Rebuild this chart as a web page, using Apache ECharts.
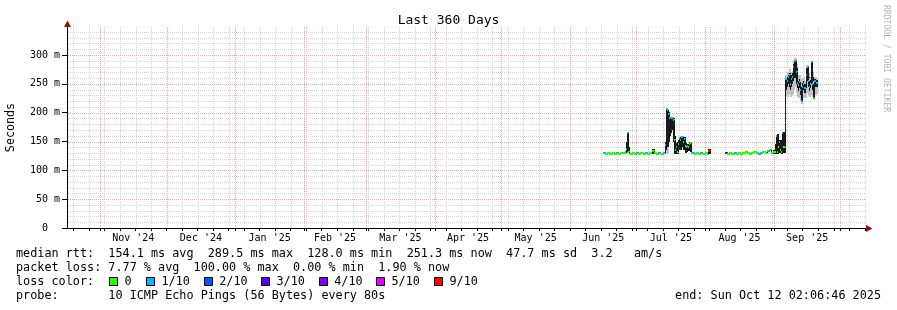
<!DOCTYPE html>
<html><head><meta charset="utf-8">
<script src="https://cdn.jsdelivr.net/npm/echarts@6/dist/echarts.min.js"></script>
<style>html,body{margin:0;padding:0;background:#fff}#c{width:897px;height:310px}</style>
</head><body><div id="c"></div>
<script>
// ---------------- data ----------------
const rangeStart = '2024-10-17 02:06';
const rangeDays = 360;
const endTime = '2025-09-20 12:00';
const times = [
 '2025-06-16 00:00','2025-06-17 00:00','2025-06-18 00:00','2025-06-19 00:00','2025-06-20 00:00',
 '2025-06-21 00:00','2025-06-22 00:00','2025-06-23 00:00','2025-06-24 00:00','2025-06-25 00:00',
 '2025-06-26 00:00','2025-06-26 12:00','2025-06-27 00:00','2025-06-27 12:00','2025-06-28 00:00',
 '2025-06-29 00:00','2025-06-30 00:00','2025-07-01 00:00','2025-07-02 00:00','2025-07-03 00:00',
 '2025-07-04 00:00','2025-07-05 00:00','2025-07-06 00:00','2025-07-07 00:00','2025-07-08 00:00',
 '2025-07-09 00:00','2025-07-10 00:00','2025-07-11 00:00','2025-07-12 00:00','2025-07-13 00:00',
 '2025-07-14 00:00','2025-07-14 12:00','2025-07-15 00:00','2025-07-15 12:00','2025-07-16 00:00',
 '2025-07-16 12:00','2025-07-17 00:00','2025-07-17 12:00','2025-07-18 00:00','2025-07-18 12:00',
 '2025-07-19 00:00','2025-07-19 12:00','2025-07-20 00:00','2025-07-20 12:00','2025-07-21 00:00',
 '2025-07-21 12:00','2025-07-22 00:00','2025-07-22 12:00','2025-07-23 00:00','2025-07-23 12:00',
 '2025-07-24 00:00','2025-07-24 12:00','2025-07-25 00:00','2025-07-25 12:00','2025-07-26 00:00',
 '2025-07-27 00:00','2025-07-28 00:00','2025-07-29 00:00','2025-07-30 00:00','2025-07-31 00:00',
 '2025-08-01 00:00','2025-08-02 00:00','2025-08-02 16:00','2025-08-03 06:00','2025-08-10 08:00',
 '2025-08-11 00:00','2025-08-12 00:00','2025-08-13 00:00','2025-08-14 00:00','2025-08-15 00:00',
 '2025-08-16 00:00','2025-08-17 00:00','2025-08-18 00:00','2025-08-19 00:00','2025-08-20 00:00',
 '2025-08-21 00:00','2025-08-22 00:00','2025-08-23 00:00','2025-08-24 00:00','2025-08-25 00:00',
 '2025-08-26 00:00','2025-08-27 00:00','2025-08-28 00:00','2025-08-29 00:00','2025-08-30 00:00',
 '2025-08-31 00:00','2025-09-01 00:00','2025-09-01 12:00','2025-09-02 00:00','2025-09-02 12:00',
 '2025-09-03 00:00','2025-09-03 12:00','2025-09-04 00:00','2025-09-04 12:00','2025-09-05 00:00',
 '2025-09-05 12:00','2025-09-06 00:00','2025-09-06 08:00','2025-09-07 00:00','2025-09-07 12:00',
 '2025-09-08 00:00','2025-09-08 12:00','2025-09-09 00:00','2025-09-09 12:00','2025-09-10 00:00',
 '2025-09-10 12:00','2025-09-11 00:00','2025-09-11 12:00','2025-09-12 00:00','2025-09-12 12:00',
 '2025-09-13 00:00','2025-09-13 12:00','2025-09-14 00:00','2025-09-14 12:00','2025-09-15 00:00',
 '2025-09-15 12:00','2025-09-16 00:00','2025-09-16 12:00','2025-09-17 00:00','2025-09-17 12:00',
 '2025-09-18 00:00','2025-09-18 12:00','2025-09-19 00:00','2025-09-19 12:00','2025-09-20 00:00'
];
// median rtt (ms)
const median = [
 130,129,130,129,130, 129,130,129,130,130,
 131,137,164,131,129, 130,129,130,129,130,
 129,130,129,130,133, 130,129,130,129,130,
 144,206,204,198,191, 190,190,188,152,135,
 141,132,145,156,153, 157,150,155,142,140,
 143,141,146,148,130, 129,130,129,130,129,
 130,129,134,null,130, 129,130,129,130,129,
 130,129,130,131,130, 129,130,131,130,129,
 130,131,130,133,136, 130,131,132,160,131,
 140,150,135,131,165, 140,183,258,255,262,
 265,250,258,262,280, 290,270,252,248,253,
 240,220,245,250,243, 265,280,255,245,250,
 288,250,226,255,251
];
// lost pings out of 10
const loss = [
 1,0,0,0,0, 0,1,0,0,0,
 1,1,1,0,0, 0,0,1,0,0,
 0,1,0,0,0, 0,0,1,0,1,
 1,1,0,1,1, 1,1,0,0,0,
 1,0,0,1,1, 1,0,1,0,0,
 1,0,0,0,1, 0,0,0,1,0,
 0,1,9,null,3, 0,0,0,1,0,
 0,0,0,0,0, 0,0,0,0,1,
 1,0,0,1,0, 0,0,0,1,0,
 0,1,0,0,1, 0,1,1,1,1,
 1,1,1,1,1, 1,1,1,1,1,
 1,1,1,1,1, 1,1,1,1,1,
 1,1,0,1,1
];
// outer smoke (light) range, ms
const smokeLo = [
 null,null,null,null,null, null,null,null,null,null,
 null,null,129,null,null, null,null,null,null,null,
 null,null,null,null,null, null,null,null,null,null,
 null,128,130,null,null, null,null,null,null,null,
 null,null,null,null,null, null,null,null,null,null,
 null,null,null,null,null, null,null,null,null,null,
 null,null,null,null,null, null,null,null,null,null,
 null,null,null,null,null, null,null,null,null,null,
 null,null,null,null,null, null,null,null,null,null,
 null,null,null,null,null, null,null,230,228,232,
 235,228,230,232,240, 245,235,228,225,230,
 220,215,225,228,225, 235,240,230,228,230,
 240,228,222,230,232
];
const smokeHi = [
 null,null,null,null,null, null,null,null,null,null,
 null,null,166,null,null, null,null,null,null,null,
 null,null,null,null,null, null,null,null,null,null,
 null,208,206,null,null, null,null,null,null,null,
 null,null,null,null,null, null,null,null,null,null,
 null,null,null,null,null, null,null,null,null,null,
 null,null,null,null,null, null,null,null,null,null,
 null,null,null,null,null, null,null,null,null,null,
 null,null,null,null,null, null,null,null,null,null,
 null,null,null,null,null, null,null,265,270,270,
 275,265,270,272,292, 294,285,265,262,265,
 258,250,258,262,255, 282,283,268,260,262,
 290,270,255,262,258
];
// inner (dark) smoke range, ms
const coreLo = [
 null,null,null,null,null, null,null,null,null,null,
 null,130,131,130,null, null,null,null,null,null,
 null,null,null,null,129, null,null,null,null,null,
 130,135,140,150,160, 165,170,150,128,128,
 130,128,135,140,135, 140,135,140,130,132,
 135,133,138,132,null, null,null,null,null,null,
 null,null,129,null,null, null,null,null,null,null,
 null,null,null,null,null, null,null,null,null,null,
 null,null,null,null,null, null,129,129,130,129,
 130,132,130,129,130, 130,140,240,245,250,
 245,240,245,250,255, 260,250,242,238,243,
 230,218,235,240,235, 250,255,245,238,242,
 260,240,224,245,245
];
const coreHi = [
 null,null,null,null,null, null,null,null,null,null,
 null,150,164,140,null, null,null,null,null,null,
 null,null,null,null,137, null,null,null,null,null,
 150,206,205,202,192, 191,191,190,160,145,
 148,150,152,158,158, 159,156,158,148,145,
 146,145,149,150,null, null,null,null,null,null,
 null,null,137,null,null, null,null,null,null,null,
 null,null,null,null,null, null,null,null,null,null,
 null,null,null,null,null, null,135,145,161,163,
 150,153,152,140,167, 166,185,260,262,265,
 268,258,265,268,285, 291,278,258,255,258,
 250,245,252,255,250, 278,281,262,252,256,
 289,262,250,258,256
];
// axis / legend text
const monthStarts = ['2024-11-01','2024-12-01','2025-01-01','2025-02-01','2025-03-01','2025-04-01',
  '2025-05-01','2025-06-01','2025-07-01','2025-08-01','2025-09-01','2025-10-01'];
const monthLabels = ["Nov '24","Dec '24","Jan '25","Feb '25","Mar '25","Apr '25",
  "May '25","Jun '25","Jul '25","Aug '25","Sep '25"];
const firstWeekLine = '2024-10-20';
const yTicks = [0,50,100,150,200,250,300];
const yMax = 348.6;
const lossLevels = [0,1,2,3,4,5,9];
const lossLabels = ['0','1/10','2/10','3/10','4/10','5/10','9/10'];
const lossColors = ['#26ff00','#00b8ff','#0059ff','#5e00ff','#7e00ff','#dd00ff','#ff0000'];
const rowRtt  = 'median rtt:  154.1 ms avg  289.5 ms max  128.0 ms min  251.3 ms now  47.7 ms sd  3.2   am/s';
const rowLoss = 'packet loss: 7.77 % avg  100.00 % max  0.00 % min  1.90 % now';
const rowColorTitle = 'loss color:';
const rowProbe = 'probe:       10 ICMP Echo Pings (56 Bytes) every 80s';
const endText = 'end: Sun Oct 12 02:06:46 2025';

// ---------------- build ----------------
function parseT(s){
  const p = s.split(' '); const d = p[0].split('-').map(Number);
  const hm = (p[1] || '00:00').split(':').map(Number);
  return new Date(d[0], d[1]-1, d[2], hm[0], hm[1]).getTime();
}
const DAY = 864e5;
const xMin = parseT(rangeStart), xMax = xMin + rangeDays*DAY;
const tArr = times.map(parseT);
const tEnd = parseT(endTime);
const customData = [];
for (let i = 0; i < tArr.length; i++) {
  if (median[i] == null) continue;
  const t1 = i + 1 < tArr.length ? tArr[i+1] : tEnd;
  customData.push([tArr[i], t1, median[i], i]);
}
const mStarts = monthStarts.map(parseT).filter(t => t < xMax);
const mMids = monthLabels.map((l, i) => Math.round((parseT(monthStarts[i]) + parseT(monthStarts[i+1])) / 2));
const weekLines = [];
for (let t = parseT(firstWeekLine); t < xMax; t += 7*DAY) weekLines.push(t);

const GREY = '#d4d4d4', RED = '#f4a0a0';
// grid line items: [x value, y value, orientation 0=vertical 1=horizontal, major flag]
const gridItems = [];
weekLines.forEach(t => gridItems.push([t, 0, 0, 0]));
for (let v = 10; v < yMax; v += 10) if (v % 50) gridItems.push([xMin, v, 1, 0]);
mStarts.forEach(t => gridItems.push([t, 0, 0, 1]));
yTicks.forEach(v => { if (v > 0) gridItems.push([xMin, v, 1, 1]); });

function renderGrid(params, api){
  const cs = params.coordSys;
  const horiz = api.value(2) === 1;
  const col = api.value(3) === 1 ? RED : GREY;
  let shape;
  if (horiz) {
    const y = Math.round(api.coord([xMin, api.value(1)])[1]) + 0.5;
    shape = {x1: cs.x + 1, y1: y, x2: cs.x + cs.width, y2: y};
  } else {
    const x = Math.round(api.coord([api.value(0), 0])[0]) + 0.5;
    shape = {x1: x, y1: cs.y, x2: x, y2: cs.y + cs.height - 1};
  }
  return {type:'line', shape:shape, style:{stroke:col, lineWidth:1, lineDash:[1,1]}};
}

const CORE = '#1a1a1a', SMOKE = '#c2c2c2';
function colorOf(l){ const k = lossLevels.indexOf(l); return k >= 0 ? lossColors[k] : lossColors[0]; }

function renderItem(params, api){
  const idx = api.value(3);
  const x0 = Math.floor(api.coord([api.value(0), 0])[0]);
  const x1 = Math.ceil(api.coord([api.value(1), 0])[0]);
  const w = Math.max(1, x1 - x0);
  const yOf = v => api.coord([api.value(0), v])[1];
  const ch = [];
  if (smokeLo[idx] != null) {
    const a = Math.round(yOf(smokeHi[idx])), b = Math.round(yOf(smokeLo[idx]));
    ch.push({type:'rect', shape:{x:x0, y:a, width:w, height:b-a}, style:{fill:SMOKE}});
  }
  if (coreLo[idx] != null) {
    const a = Math.round(yOf(coreHi[idx])), b = Math.round(yOf(coreLo[idx]));
    ch.push({type:'rect', shape:{x:x0, y:a, width:w, height:Math.max(1,b-a)}, style:{fill:CORE}});
  }
  if (idx > 0 && median[idx-1] != null) {
    const y1 = Math.round(yOf(median[idx-1])), y2 = Math.round(yOf(median[idx]));
    if (Math.abs(y2 - y1) > 1) {
      ch.push({type:'rect', shape:{x:x0, y:Math.min(y1,y2), width:1, height:Math.abs(y2-y1)}, style:{fill:CORE}});
    }
  }
  const ym = Math.round(yOf(median[idx]));
  ch.push({type:'rect', shape:{x:x0, y:ym-1, width:w, height:2}, style:{fill:colorOf(loss[idx])}});
  return {type:'group', children: ch};
}

const MONO = '"DejaVu Sans Mono", monospace';
const LF = 11.8;
function txt(s, x, y, align){
  return {type:'text', x:x, y:y, silent:true,
    style:{text:s, x:0, y:0, font: LF + 'px ' + MONO, fill:'#000', verticalAlign:'middle', textVerticalAlign:'middle',
      align: align || 'left', textAlign: align || 'left'}};
}
const graphics = [];
graphics.push({type:'polygon', silent:true, shape:{points:[[64,27],[71,27],[67.5,20.5]]}, style:{fill:'#8b1010'}, z:20});
graphics.push({type:'polygon', silent:true, shape:{points:[[866,225],[866,232],[872.5,228.5]]}, style:{fill:'#8b1010'}, z:20});
graphics.push({type:'text', x:886, y:5, rotation:-Math.PI/2, silent:true,
  style:{text:'RRDTOOL / TOBI OETIKER', x:0, y:0, font:'8.1px ' + MONO, fill:'#b4b4b4', verticalAlign:'middle', textVerticalAlign:'middle'}});
graphics.push(txt(rowRtt, 16, 254));
graphics.push(txt(rowLoss, 16, 268));
graphics.push(txt(rowColorTitle, 16, 282));
const boxX = [109, 146, 203.7, 261, 318.7, 376, 434];
lossLabels.forEach((l, i) => {
  graphics.push({type:'rect', silent:true, shape:{x:Math.round(boxX[i])+0.5, y:277.5, width:8, height:8}, style:{fill:lossColors[i], stroke:'#000', lineWidth:1}});
  graphics.push(txt(l, boxX[i] + 15.5, 282));
});
graphics.push(txt(rowProbe, 16, 296));
graphics.push(txt(endText, 881, 296, 'right'));

const chart = echarts.init(document.getElementById('c'), null, {renderer:'canvas'});
chart.setOption({
  backgroundColor:'#fff',
  animation:false,
  title:{text:'Last 360 Days', left:'center', top:9,
    textStyle:{fontFamily:MONO, fontSize:13, fontWeight:'normal', color:'#000'}},
  grid:{left:67, top:27, width:798, height:201, containLabel:false, outerBoundsMode:'none'},
  xAxis:{type:'value', min:xMin, max:xMax, z:10, scale:true,
    axisLine:{show:true, onZero:false, lineStyle:{color:'#000', width:1}},
    axisTick:{show:true, customValues: weekLines.concat(mStarts), length:3, lineStyle:{color:'#000'}},
    axisLabel:{customValues: mMids, margin:5, fontFamily:MONO, fontSize:10, color:'#000',
      formatter:(v) => { const k = mMids.findIndex(m => Math.abs(m - v) < 1000); return k >= 0 ? monthLabels[k] : ''; }},
    splitLine:{show:false}},
  yAxis:{type:'value', min:0, max:yMax, z:10,
    name:'Seconds', nameLocation:'middle', nameGap:50, nameRotate:90,
    nameTextStyle:{fontFamily:MONO, fontSize:11.7, color:'#000'},
    axisLine:{show:true, onZero:false, lineStyle:{color:'#000', width:1}},
    axisTick:{show:true, customValues:yTicks, length:5, lineStyle:{color:'#000'}},
    axisLabel:{customValues:yTicks, margin:7, fontFamily:MONO, fontSize:10, color:'#000',
      formatter:v => v === 0 ? '0  ' : v + ' m'},
    splitLine:{show:false}},
  graphic: graphics,
  series:[
    {type:'custom', z:1, silent:true, clip:false, renderItem:renderGrid, data:gridItems,
      encode:{x:0, y:1}},
    {type:'custom', z:3, silent:true, clip:true, renderItem:renderItem, data:customData,
      encode:{x:[0,1], y:2}}
  ]
});
</script>
</body></html>
